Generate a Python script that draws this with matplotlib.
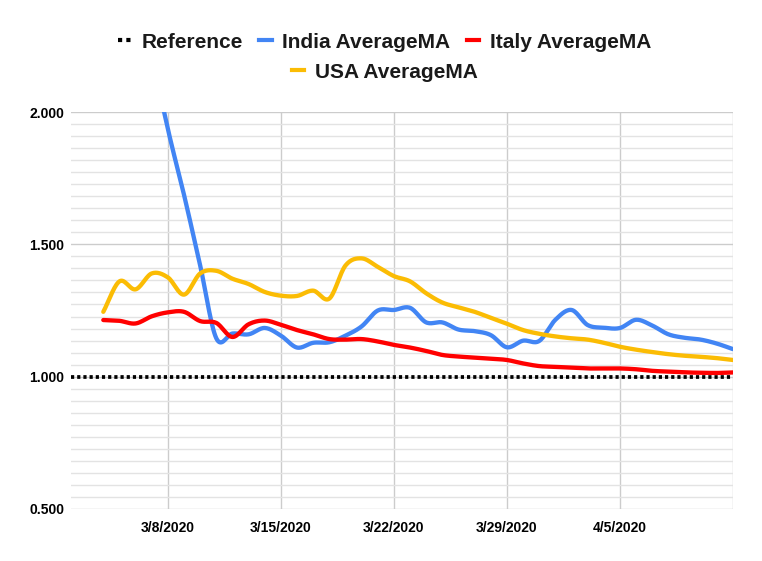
import numpy as np
import pandas as pd
import matplotlib
matplotlib.use("Agg")
import matplotlib.pyplot as plt
import matplotlib.dates as mdates
from matplotlib.lines import Line2D

plt.rcParams['font.family'] = ['Liberation Sans', 'DejaVu Sans']

# ---- data ----
dates = pd.date_range("2020-03-02", "2020-04-12", freq="D")
reference = [1.0] * len(dates)
nan = np.nan
india = [nan, nan, 3.40, 3.00, 2.60, 2.23, 1.936, 1.687, 1.42, 1.145, 1.163, 1.16,
         1.184, 1.155, 1.11, 1.128, 1.13, 1.155, 1.19, 1.25, 1.252, 1.26, 1.205,
         1.205, 1.178, 1.172, 1.157, 1.111, 1.136, 1.135, 1.215, 1.252, 1.195,
         1.185, 1.184, 1.215, 1.193, 1.16, 1.147, 1.14, 1.125, 1.104]
italy = [nan, nan, 1.214, 1.211, 1.201, 1.228, 1.243, 1.245, 1.21, 1.203, 1.15, 1.198,
         1.212, 1.196, 1.176, 1.16, 1.142, 1.14, 1.142, 1.133, 1.12, 1.11, 1.097,
         1.082, 1.076, 1.072, 1.068, 1.063, 1.05, 1.04, 1.037, 1.034, 1.031,
         1.031, 1.031, 1.028, 1.022, 1.019, 1.016, 1.015, 1.014, 1.016]
usa = [nan, nan, 1.245, 1.36, 1.33, 1.39, 1.375, 1.31, 1.39, 1.40, 1.37, 1.35,
       1.32, 1.306, 1.305, 1.325, 1.295, 1.42, 1.447, 1.415, 1.38, 1.36, 1.315,
       1.28, 1.262, 1.245, 1.222, 1.20, 1.176, 1.162, 1.152, 1.145, 1.14,
       1.128, 1.113, 1.102, 1.093, 1.085, 1.079, 1.075, 1.07, 1.063]
series_names = ["Reference", "India AverageMA", "Italy AverageMA", "USA AverageMA"]
x_tick_dates = ["2020-03-08", "2020-03-15", "2020-03-22", "2020-03-29", "2020-04-05", "2020-04-12"]
x_tick_labels = ["3/8/2020", "3/15/2020", "3/22/2020", "3/29/2020", "4/5/2020", ""]
y_major = [0.5, 1.0, 1.5, 2.0]
y_labels = ["0.500", "1.000", "1.500", "2.000"]

colors = {"India AverageMA": "#4285F4", "Italy AverageMA": "#FF0000", "USA AverageMA": "#FBBC04"}


def smooth(xn, y, n=16):
    """Catmull-Rom display smoothing through the data points (render only)."""
    y = np.asarray(y, float)
    valid = ~np.isnan(y)
    idx = np.where(valid)[0]
    xs, ys = [], []
    for k in range(len(idx) - 1):
        i1, i2 = idx[k], idx[k + 1]
        i0 = idx[k - 1] if k > 0 else i1
        i3 = idx[k + 2] if k + 2 < len(idx) else i2
        t = np.linspace(0, 1, n, endpoint=False)
        for arr, out in ((xn, xs), (y, ys)):
            p0, p1, p2, p3 = arr[i0], arr[i1], arr[i2], arr[i3]
            m1 = (p2 - p0) / 2 if i0 != i1 else (p2 - p1)
            m2 = (p3 - p1) / 2 if i3 != i2 else (p2 - p1)
            h00 = 2 * t**3 - 3 * t**2 + 1
            h10 = t**3 - 2 * t**2 + t
            h01 = -2 * t**3 + 3 * t**2
            h11 = t**3 - t**2
            out.extend(h00 * p1 + h10 * m1 + h01 * p2 + h11 * m2)
    xs.append(xn[idx[-1]])
    ys.append(y[idx[-1]])
    return np.array(xs), np.array(ys)


fig = plt.figure(figsize=(7.62, 5.61), dpi=100)
ax = fig.add_axes([71 / 762, 1 - 509 / 561, (733 - 71) / 762, (509 - 112) / 561])

xnum = mdates.date2num(dates.to_pydatetime())

ax.plot(xnum, reference, color="black", lw=2.7, ls=(0, (0.85, 0.8)), dash_capstyle="butt",
        zorder=3, label="Reference")
for name, vals in (("India AverageMA", india), ("Italy AverageMA", italy), ("USA AverageMA", usa)):
    sx, sy = smooth(xnum, vals)
    ax.plot(sx, sy, color=colors[name], lw=3.1, solid_capstyle="round", zorder=4)

ax.set_xlim(xnum[0], xnum[-1])
ax.set_ylim(0.5, 2.0)

ax.set_yticks(y_major)
ax.set_yticklabels(y_labels)
minor = [v for a in y_major[:-1] for v in np.linspace(a, a + 0.5, 12)[1:-1]]
ax.set_yticks(minor, minor=True)

xt = mdates.date2num(pd.to_datetime(x_tick_dates).to_pydatetime())
ax.set_xticks(xt)
ax.set_xticklabels(x_tick_labels)

ax.grid(True, which="major", axis="both", color="#cccccc", lw=1.0, zorder=0)
ax.grid(True, which="minor", axis="y", color="#e3e3e3", lw=1.0, zorder=0)
ax.set_axisbelow(True)
for s in ax.spines.values():
    s.set_visible(False)
ax.tick_params(axis="both", which="both", length=0)
ax.tick_params(axis="y", pad=5)
ax.tick_params(axis="x", pad=9)
for lab in ax.get_xticklabels() + ax.get_yticklabels():
    lab.set_fontweight("bold")
    lab.set_fontsize(10)
    lab.set_color("#000000")

# legend: two centered rows
h_ref = Line2D([], [], color="black", lw=3, ls=(0, (1, 1)))
h_ind = Line2D([], [], color=colors["India AverageMA"], lw=3)
h_ita = Line2D([], [], color=colors["Italy AverageMA"], lw=3)
h_usa = Line2D([], [], color=colors["USA AverageMA"], lw=3)
common = dict(frameon=False, handlelength=0.6, handletextpad=0.5, columnspacing=0.8,
              prop={"weight": "bold", "size": 15}, borderaxespad=0, borderpad=0)
leg1 = fig.legend([h_ref, h_ind, h_ita], series_names[:3], loc="center",
                  bbox_to_anchor=(0.505, 1 - 42 / 561), ncol=3, **common)
leg2 = fig.legend([h_usa], series_names[3:], loc="center",
                  bbox_to_anchor=(0.505, 1 - 72 / 561), ncol=1, **common)
for leg in (leg1, leg2):
    for t in leg.get_texts():
        t.set_color("#1a1a1a")

fig.savefig("out.png", dpi=100)
